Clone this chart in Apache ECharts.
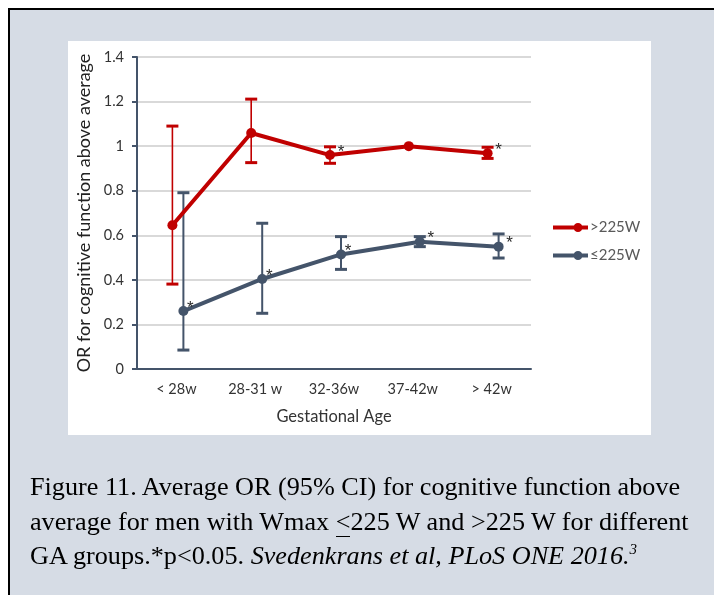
<!DOCTYPE html>
<html>
<head>
<meta charset="utf-8">
<script src="https://cdn.jsdelivr.net/npm/echarts@6/dist/echarts.min.js"></script>
<style>
  html, body { margin:0; padding:0; width:714px; height:595px; background:#fff; overflow:hidden; }
  #frame { position:absolute; left:8px; top:8px; width:706px; height:587px; background:#d6dce5;
           border-left:2px solid #000; border-top:2px solid #000; box-sizing:border-box; }
  #panel { position:absolute; left:68px; top:41px; width:583px; height:394px; background:#fff; }
  #chart { position:absolute; left:0; top:0; width:714px; height:595px; }
  #caption { position:absolute; left:30px; top:470px; width:684px; font-family:"Liberation Serif","Times New Roman",serif;
             font-size:26.2px; line-height:34.5px; color:#000; white-space:nowrap; }
  #caption sup { font-size:15px; line-height:0; vertical-align:super; }
</style>
</head>
<body>
<div id="frame"></div>
<div id="panel"></div>
<div id="chart"></div>
<div id="caption">Figure 11. Average OR (95% CI) for cognitive function above<br>average for men with Wmax <u style="text-decoration:none;border-bottom:1px solid #000;">&lt;</u>225 W and &gt;225 W for different<br>GA groups.*p&lt;0.05. <i>Svedenkrans et al, PLoS ONE 2016.<sup>3</sup></i></div>
<script>
var categories = ['< 28w', '28-31 w', '32-36w', '37-42w', '> 42w'];
var seriesNames = ['>225W', '≤225W'];
var yTicks = [0, 0.2, 0.4, 0.6, 0.8, 1, 1.2, 1.4];

var highOR   = [0.645, 1.059, 0.960, 1.000, 0.968];
var highLow  = [0.381, 0.926, 0.923, null, 0.945];
var highUp   = [1.090, 1.211, 0.997, null, 0.995];
var highSig  = [false, false, true, false, true];

var lowOR    = [0.260, 0.404, 0.514, 0.571, 0.549];
var lowLow   = [0.085, 0.250, 0.447, 0.549, 0.498];
var lowUp    = [0.791, 0.654, 0.594, 0.594, 0.606];
var lowSig   = [true, true, true, true, true];

var RED = '#c00000', SLATE = '#44546a';
var FONT = 'Lato, "Open Sans", sans-serif';

var gridBase = { top: 57, width: 394, height: 312 };
function grid(left) { return Object.assign({ left: left }, gridBase); }

function hiddenX(idx) {
  return { type: 'category', data: categories, gridIndex: idx, show: false, boundaryGap: true };
}
function hiddenY(idx) {
  return { type: 'value', gridIndex: idx, min: yTicks[0], max: yTicks[yTicks.length - 1], interval: 0.2, show: false };
}

function errData(lo, up) {
  return lo.map(function (v, i) { return [i, v, up[i]]; });
}
function errRender(color, stemW, capW, half) {
  return function (params, api) {
    var lo = api.value(1), hi = api.value(2);
    if (lo == null || isNaN(lo) || hi == null || isNaN(hi)) return null;
    var pLo = api.coord([api.value(0), lo]);
    var pHi = api.coord([api.value(0), hi]);
    var x = pLo[0];
    return {
      type: 'group',
      children: [
        { type: 'line', shape: { x1: x, y1: pHi[1], x2: x, y2: pLo[1] }, style: { stroke: color, lineWidth: stemW } },
        { type: 'line', shape: { x1: x - half, y1: pHi[1], x2: x + half, y2: pHi[1] }, style: { stroke: color, lineWidth: capW } },
        { type: 'line', shape: { x1: x - half, y1: pLo[1], x2: x + half, y2: pLo[1] }, style: { stroke: color, lineWidth: capW } }
      ]
    };
  };
}
function pointData(vals, sig, up) {
  return vals.map(function (v, i) {
    var near = (up[i] == null) || (up[i] - v < 0.065);
    var dx = near ? 11 : 7;
    return {
      value: v,
      label: {
        show: sig[i], formatter: '*', position: [5 + dx, 5 - 3],
        align: 'center', verticalAlign: 'middle',
        fontSize: 17, color: '#2b2b2b', fontFamily: '"Liberation Sans", Arial, sans-serif'
      }
    };
  });
}

var legendIcon = 'path://M0,3H35V7H0Z M20.5,5A4.5,4.5 0 1,1 29.5,5A4.5,4.5 0 1,1 20.5,5Z';

var chart = echarts.init(document.getElementById('chart'), null, { renderer: 'canvas' });
chart.setOption({
  backgroundColor: 'transparent',
  animation: false,
  textStyle: { fontFamily: FONT },
  grid: [grid(137), grid(133), grid(144)],
  xAxis: [
    {
      type: 'category', data: categories, gridIndex: 0, boundaryGap: true,
      name: 'Gestational Age', nameLocation: 'middle', nameGap: 39,
      nameTextStyle: { fontSize: 16.5, color: '#333', fontFamily: FONT },
      axisLine: { lineStyle: { color: SLATE, width: 2 } },
      axisTick: { show: false },
      axisLabel: { fontSize: 14.5, color: '#333', margin: 13, fontFamily: FONT },
      splitLine: { show: false }
    },
    hiddenX(1), hiddenX(2)
  ],
  yAxis: [
    {
      type: 'value', gridIndex: 0, min: yTicks[0], max: yTicks[yTicks.length - 1], interval: 0.2,
      name: 'OR for cognitive function above average', nameLocation: 'middle', nameGap: 41,
      nameTextStyle: { fontSize: 18, color: '#222', fontFamily: FONT },
      axisLine: { show: true, lineStyle: { color: SLATE, width: 2 } },
      axisTick: { show: true, length: 5, lineStyle: { color: SLATE, width: 2 } },
      axisLabel: { fontSize: 14.5, color: '#333', margin: 13, fontFamily: FONT,
                   formatter: function (v) { return String(+v.toFixed(1)); } },
      splitLine: { show: true, lineStyle: { color: '#d9d9d9', width: 2 } }
    },
    hiddenY(1), hiddenY(2)
  ],
  legend: {
    orient: 'vertical', left: 553, top: 220, itemGap: 13, padding: 0,
    itemWidth: 35, itemHeight: 10, icon: legendIcon,
    itemStyle: { borderWidth: 0 },
    textStyle: { fontSize: 15, color: '#595959', fontFamily: FONT, padding: [0, 0, 0, -3] },
    data: seriesNames
  },
  series: [
    {
      type: 'custom', name: 'errLow', xAxisIndex: 2, yAxisIndex: 2, z: 2,
      renderItem: errRender(SLATE, 2, 3, 6), encode: { x: 0, y: [1, 2] },
      data: errData(lowLow, lowUp), clip: false, silent: true
    },
    {
      type: 'line', name: seriesNames[1], xAxisIndex: 2, yAxisIndex: 2, z: 3,
      data: pointData(lowOR, lowSig, lowUp),
      symbol: 'circle', symbolSize: 10, showAllSymbol: true,
      lineStyle: { color: SLATE, width: 4 }, itemStyle: { color: SLATE, borderWidth: 0 }
    },
    {
      type: 'custom', name: 'errHigh', xAxisIndex: 1, yAxisIndex: 1, z: 4,
      renderItem: errRender(RED, 1.6, 3, 6), encode: { x: 0, y: [1, 2] },
      data: errData(highLow, highUp), clip: false, silent: true
    },
    {
      type: 'line', name: seriesNames[0], xAxisIndex: 1, yAxisIndex: 1, z: 5,
      data: pointData(highOR, highSig, highUp),
      symbol: 'circle', symbolSize: 10, showAllSymbol: true,
      lineStyle: { color: RED, width: 4 }, itemStyle: { color: RED, borderWidth: 0 }
    }
  ]
});
</script>
</body>
</html>
